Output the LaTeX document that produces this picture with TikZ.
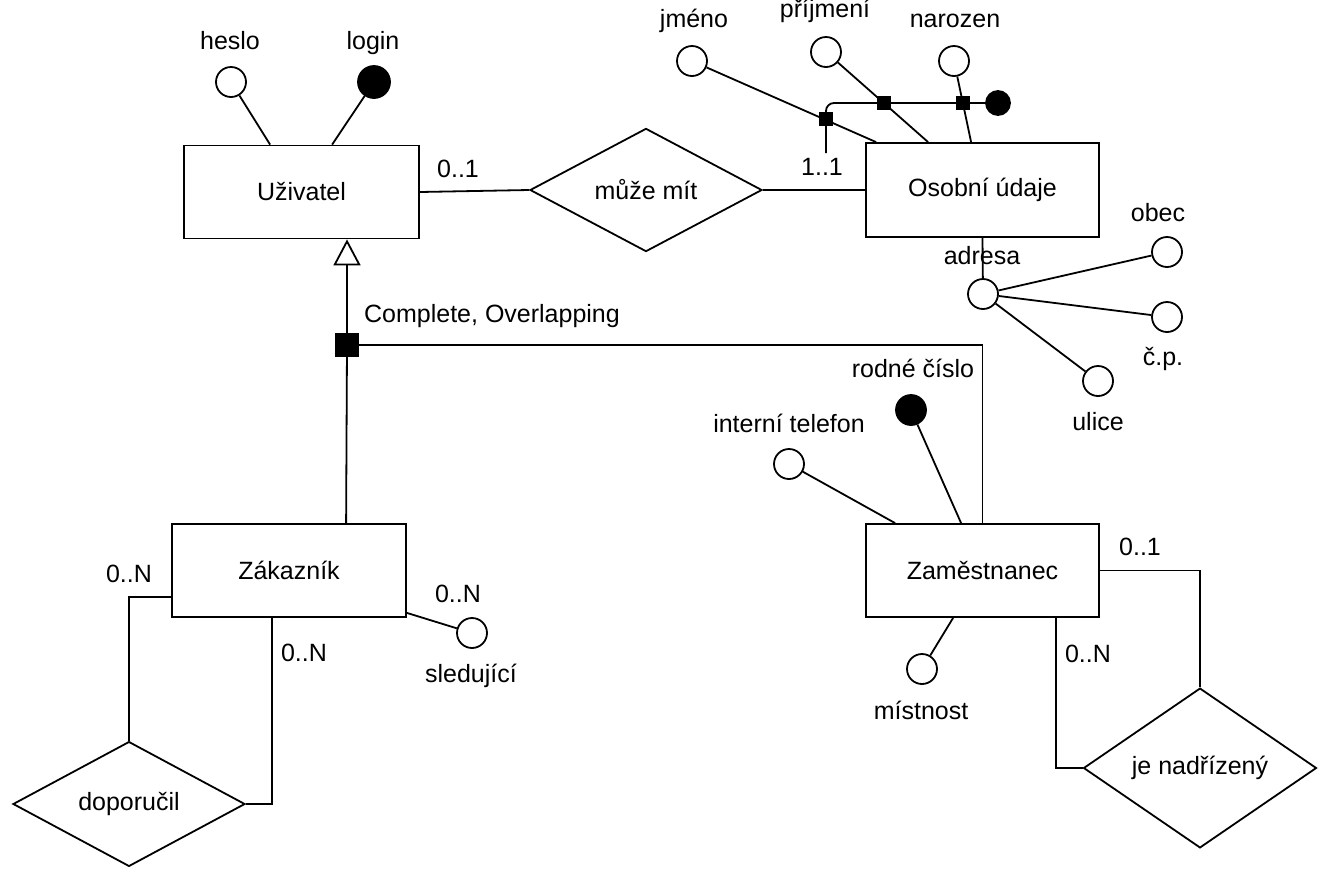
\documentclass[tikz,border=0pt]{standalone}
\usepackage{fontspec}
\setmainfont{Liberation Sans}
\usetikzlibrary{shapes.geometric,arrows.meta}
\tikzset{
  every picture/.style={line width=1.8pt},
  lbl/.style={font=\fontsize{25}{29}\selectfont, inner sep=0pt, anchor=base},
  entity/.style={draw, rectangle, minimum width=#1, minimum height=93pt, inner sep=0pt, font=\fontsize{25}{29}\selectfont},
  rel/.style={draw, diamond, inner sep=0pt, font=\fontsize{25}{29}\selectfont},
  attr/.style={draw, circle, fill=white, minimum size=30pt, inner sep=0pt},
  keyattr/.style={draw, circle, fill=black, minimum size=30pt, inner sep=0pt},
  sq/.style={draw, rectangle, fill=black, minimum size=#1, inner sep=0pt},
}
\begin{document}
\begin{tikzpicture}[x=1pt,y=-1pt]
\useasboundingbox (0,0) rectangle (1320,871);
\clip (0,0) rectangle (1320,871);

% entities
\node[entity=235pt] (uziv) at (301.5,192) {Uživatel};
\node[entity=233pt, minimum height=94pt] (osob) at (982.5,190) {Osobní údaje};
\node[entity=234pt] (zak) at (289,570.5) {Zákazník};
\node[entity=233pt] (zam) at (982.5,570.5) {Zaměstnanec};

% relationships
\node[rel, minimum width=232pt, minimum height=122pt] (muze) at (646,190) {může mít};
\node[rel, minimum width=232pt, minimum height=116pt] (dop) at (129,804) {doporučil};
\node[rel, minimum width=233pt, minimum height=116pt] (nadr) at (1200,768) {je nadřízený};

% Uživatel attributes
\node[attr] (heslo) at (231,82) {};
\node[keyattr, minimum size=32pt] (login) at (374,82) {};
\draw (heslo) -- ([xshift=87pt]uziv.north west);
\draw (login) -- ([xshift=149pt]uziv.north west);
\node[lbl] (lheslo) at (230,49) {heslo};
\node[lbl] (llogin) at (373,49) {login};

% relationship může mít
\draw (uziv.east) -- (muze.west);
\draw (muze.east) -- (osob.west);
\node[lbl] (c01a) at (458,177) {0..1};
\node[lbl] (c11) at (822,175) {1..1};

% Osobní údaje attributes
\node[attr] (jmeno) at (692,61) {};
\node[attr] (prijm) at (826,52) {};
\node[attr] (naroz) at (954,61) {};
\draw (jmeno) -- ([xshift=11pt]osob.north west);
\draw (prijm) -- ([xshift=63pt]osob.north west);
\draw (naroz) -- ([xshift=106pt]osob.north west);
\node[lbl] (ljmeno) at (694,27) {jméno};
\node[lbl] (lprijm) at (825,17) {příjmení};
\node[lbl] (lnaroz) at (955,27) {narozen};

% composite key
\node[keyattr, minimum size=24pt] (kfill) at (998,103) {};
\coordinate (k0) at (826,153);
\draw[rounded corners=8pt] (k0) |- (kfill.west);
\node[sq=12pt] (sq1) at (826,119) {};
\node[sq=12pt] (sq2) at (884,103) {};
\node[sq=12pt] (sq3) at (963,103) {};

% adresa
\node[attr] (adresa) at (983,294) {};
\node[attr] (obec) at (1167,252) {};
\node[attr] (cp) at (1167,317) {};
\node[attr] (ulice) at (1098,381) {};
\draw (osob.south) -- (adresa);
\draw (adresa) -- (obec);
\draw (adresa) -- (cp);
\draw (adresa) -- (ulice);
\node[lbl] (ladresa) at (982,264) {adresa};
\node[lbl] (lobec) at (1158,221) {obec};
\node[lbl] (lcp) at (1163,365) {č.p.};
\node[lbl] (lulice) at (1098,430) {ulice};

% generalization
\node[sq=22pt] (gensq) at (347,345) {};
\draw[-{Triangle[open,length=26pt,width=27pt,line width=1.8pt]}] (gensq) -- ([xshift=45.5pt]uziv.south);
\draw (gensq) -- ([xshift=175pt]zak.north west);
\draw (gensq) -| (zam.north);
\node[lbl] (lgen) at (492,322) {Complete, Overlapping};

% Zaměstnanec attributes
\node[attr] (itel) at (789,464) {};
\node[keyattr] (rc) at (911,410) {};
\node[attr] (mist) at (922,669) {};
\draw (itel) -- ([xshift=30pt]zam.north west);
\draw (rc) -- ([xshift=96pt]zam.north west);
\draw (mist) -- ([xshift=88pt]zam.south west);
\node[lbl] (litel) at (789,432) {interní telefon};
\node[lbl] (lrc) at (913,377) {rodné číslo};
\node[lbl] (lmist) at (921,719) {místnost};

% je nadřízený
\draw (zam.east) -| (nadr.north);
\draw ([xshift=191pt]zam.south west) |- (nadr.west);
\node[lbl] (c01b) at (1140,555) {0..1};
\node[lbl] (c0nz) at (1088,662) {0..N};

% Zákazník
\node[attr] (sled) at (472,633) {};
\draw ([yshift=5pt]zak.south east) -- (sled);
\node[lbl] (lsled) at (471,682) {sledující};
\node[lbl] (c0ns) at (458,602) {0..N};
\draw ([yshift=21pt]zak.south west) -| (dop.north);
\draw ([xshift=101pt]zak.south west) |- (dop.east);
\node[lbl] (c0nl) at (129,582) {0..N};
\node[lbl] (c0nr) at (304,661) {0..N};
\end{tikzpicture}
\end{document}
